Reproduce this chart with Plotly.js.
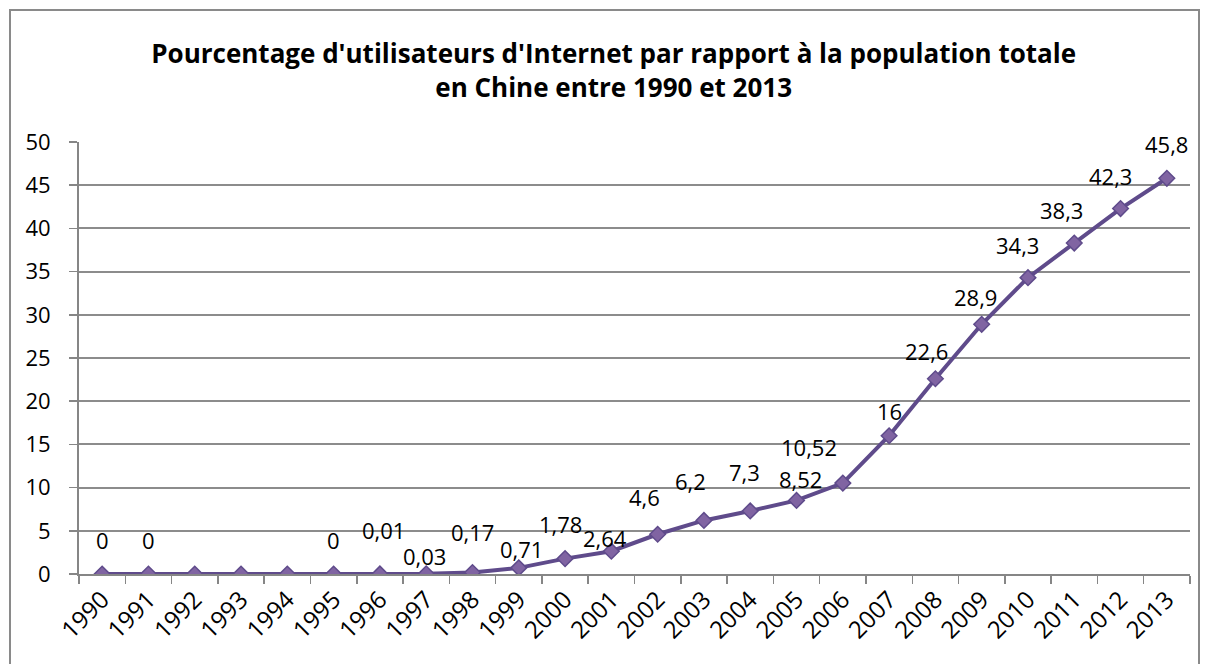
<!DOCTYPE html>
<html>
<head>
<meta charset="utf-8">
<script src="https://cdn.plot.ly/plotly-3.0.1.min.js"></script>
<style>
  html, body { margin: 0; padding: 0; background: #fff; }
  #wrap { position: relative; width: 1208px; height: 664px; overflow: hidden; }
  #chart { position: absolute; left: 0; top: 0; width: 1208px; height: 664px; }
  #frame { position: absolute; left: 9px; top: 9px; width: 1187px; height: 700px; border: 2px solid #8a8a8a; pointer-events: none; }
</style>
</head>
<body>
<div id="wrap">
  <div id="chart"></div>
  <div id="frame"></div>
</div>
<script>
// Data
const years = ["1990","1991","1992","1993","1994","1995","1996","1997","1998","1999","2000","2001",
               "2002","2003","2004","2005","2006","2007","2008","2009","2010","2011","2012","2013"];
const percent = [0, 0, 0, 0, 0, 0, 0.01, 0.03, 0.17, 0.71, 1.78, 2.64,
                 4.6, 6.2, 7.3, 8.52, 10.52, 16, 22.6, 28.9, 34.3, 38.3, 42.3, 45.8];
const labels = ["0","0","","","","0","0,01","0,03","0,17","0,71","1,78","2,64",
                "4,6","6,2","7,3","8,52","10,52","16","22,6","28,9","34,3","38,3","42,3","45,8"];

// Label offsets (pixels) to mimic the original label placement
const labelDx = [0,0,0,0,0,0,4,-2,0,3,-5,-6,-13,-13,-6,4,-34,0,-9,-6,-10,-13,-10,0];
const labelDy = [34,34,0,0,0,34,44,18,41,19,35,13,37,39,39,21,36,25,28,27,33,33,33,34];

const FONT = "Open Sans, Noto Sans, sans-serif";

const annotations = [];
for (let i = 0; i < years.length; i++) {
  if (!labels[i]) continue;
  annotations.push({
    x: i, y: percent[i], xref: "x", yref: "y",
    text: labels[i], showarrow: false,
    xanchor: "center", yanchor: "middle",
    xshift: labelDx[i], yshift: labelDy[i],
    font: { family: FONT, size: 22, color: "#000" }
  });
}

const trace = {
  x: years, y: percent, type: "scatter", mode: "lines+markers",
  line: { color: "#5f4b8b", width: 4 },
  marker: { symbol: "diamond", size: 12, color: "#8064a2", line: { color: "#5f4b8b", width: 1.5 } },
  hoverinfo: "x+y"
};

const layout = {
  width: 1208, height: 664,
  margin: { l: 79, r: 18, t: 142, b: 90 },
  paper_bgcolor: "rgba(0,0,0,0)", plot_bgcolor: "#fff",
  showlegend: false,
  title: {
    text: "<b>Pourcentage d'utilisateurs d'Internet par rapport à la population totale<br>en Chine entre 1990 et 2013</b>",
    font: { family: FONT, size: 26, color: "#000" },
    x: 0.508, xanchor: "center", y: 0.905, yanchor: "middle"
  },
  xaxis: {
    type: "category",
    range: [-0.5, 23.5],
    tickangle: -45,
    ticks: "outside", ticklen: 8, tickwidth: 1.5, tickcolor: "#868686",
    tickson: "boundaries",
    showline: true, linecolor: "#868686", linewidth: 2,
    showgrid: false,
    tickfont: { family: FONT, size: 24, color: "#000" },
    automargin: false,
    fixedrange: true
  },
  yaxis: {
    range: [0, 50], dtick: 5, tick0: 0,
    ticks: "outside", ticklen: 8, tickwidth: 1.5, tickcolor: "#868686",
    showline: true, linecolor: "#868686", linewidth: 2,
    showgrid: true, gridcolor: "#8c8c8c", gridwidth: 2,
    zeroline: false,
    tickfont: { family: FONT, size: 22, color: "#000" },
    ticklabelstandoff: 14,
    fixedrange: true
  },
  annotations: annotations
};

Plotly.newPlot("chart", [trace], layout, { displayModeBar: false, staticPlot: true });
</script>
</body>
</html>
